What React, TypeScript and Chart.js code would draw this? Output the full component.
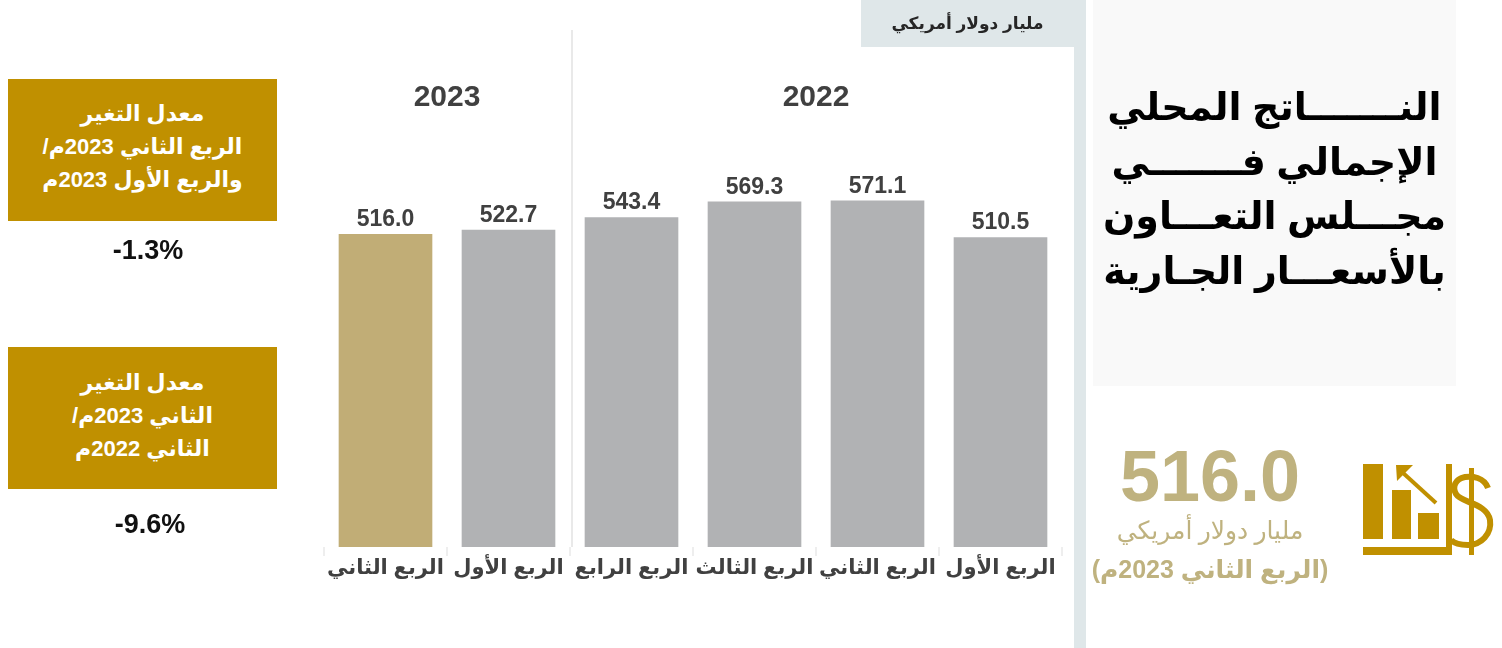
import React, { useEffect, useRef } from "react";
import { Chart, registerables } from "chart.js";

Chart.register(...registerables);

const categories = ["الربع الثاني", "الربع الأول", "الربع الرابع", "الربع الثالث", "الربع الثاني", "الربع الأول"];
const values = [516.0, 522.7, 543.4, 569.3, 571.1, 510.5];
const barColors = ["#c1ad76", "#b1b2b4", "#b1b2b4", "#b1b2b4", "#b1b2b4", "#b1b2b4"];
const yearGroups = [
  { label: "2023", from: 0, to: 1 },
  { label: "2022", from: 2, to: 5 },
];
const unitLabel = "مليار دولار أمريكي";
const titleLines = ["النـــــــاتج المحلي", "الإجمالي فـــــــي", "مجـــلس التعـــاون", "بالأسعـــار الجـارية"];
const box1Lines = ["معدل التغير", "الربع الثاني 2023م/", "والربع الأول 2023م"];
const box2Lines = ["معدل التغير", "الثاني 2023م/", "الثاني 2022م"];
const change1 = "-1.3%";
const change2 = "-9.6%";
const headline = "516.0";
const headlinePeriod = "(الربع الثاني 2023م)";

const FONT = '"Liberation Sans", "DejaVu Sans", sans-serif';

const annotate = {
  id: "annotate",
  afterDatasetsDraw(chart: any) {
    const { ctx, scales, chartArea } = chart;
    const x = scales.x;
    const y = scales.y;
    ctx.save();
    ctx.textAlign = "center";
    // value labels
    ctx.font = `bold 23px ${FONT}`;
    ctx.fillStyle = "#404040";
    ctx.textBaseline = "bottom";
    values.forEach((v, i) => {
      ctx.fillText(v.toFixed(1), x.getPixelForValue(i), y.getPixelForValue(v) - 3);
    });
    // year labels
    ctx.font = `bold 30px ${FONT}`;
    ctx.textBaseline = "middle";
    yearGroups.forEach((g) => {
      const c = (x.getPixelForValue(g.from) + x.getPixelForValue(g.to)) / 2;
      ctx.fillText(g.label, c, 98);
    });
    // separator between year groups
    const sep = (x.getPixelForValue(1) + x.getPixelForValue(2)) / 2 + 2;
    ctx.strokeStyle = "#e2e2e2";
    ctx.lineWidth = 1.5;
    ctx.beginPath();
    ctx.moveTo(sep, chartArea.top);
    ctx.lineTo(sep, chartArea.bottom);
    ctx.stroke();
    ctx.restore();
  },
};

const abs = (x: number, y: number, w: number, h: number, extra: any = {}): any => ({
  position: "absolute",
  left: x,
  top: y,
  width: w,
  height: h,
  ...extra,
});

function Lines({ lines, x, y, w, lh, style }: any) {
  return (
    <>
      {lines.map((t: string, i: number) => (
        <div
          key={i}
          dir="rtl"
          style={abs(x, y + i * lh, w, lh, {
            lineHeight: `${lh}px`,
            textAlign: "center",
            whiteSpace: "nowrap",
            fontFamily: FONT,
            ...style,
          })}
        >
          {t}
        </div>
      ))}
    </>
  );
}

function Icon() {
  const c = "#c09000";
  return (
    <svg style={abs(1360, 460, 140, 100)} viewBox="1360 460 140 100">
      <rect x={1363} y={464} width={20} height={75} fill={c} />
      <rect x={1392} y={490} width={19} height={49} fill={c} />
      <rect x={1418} y={513} width={21} height={26} fill={c} />
      <rect x={1446} y={464} width={6} height={91} fill={c} />
      <rect x={1363} y={547} width={89} height={8} fill={c} />
      <line x1={1436} y1={503} x2={1402} y2={472} stroke={c} strokeWidth={4} />
      <polygon points="1396,465 1413,465 1397,481" fill={c} />
      <path
        d="M1488 488 C1484 477 1472 476 1465 477 C1455 479 1452 487 1456 494 C1461 503 1487 503 1490 520 C1492 534 1481 545 1468 545 C1460 545 1454 543 1451 540"
        fill="none"
        stroke={c}
        strokeWidth={6}
      />
      <rect x={1469} y={468} width={5} height={87} fill={c} />
    </svg>
  );
}

export default function App() {
  const ref = useRef<HTMLCanvasElement>(null);
  useEffect(() => {
    const chart = new Chart(ref.current as HTMLCanvasElement, {
      type: "bar",
      data: {
        labels: categories,
        datasets: [{ data: values, backgroundColor: barColors, barThickness: 93, borderWidth: 0 }],
      },
      options: {
        animation: false,
        responsive: false,
        maintainAspectRatio: false,
        layout: { padding: { left: 324, right: 440, top: 30, bottom: 41 } },
        plugins: { legend: { display: false }, tooltip: { enabled: false } },
        scales: {
          y: { display: false, min: 0, max: 853 },
          x: {
            afterFit: (s: any) => {
              s.height = 60;
            },
            border: { display: false },
            grid: { drawOnChartArea: false, drawTicks: true, tickLength: 9, color: "#eeeeee", lineWidth: 2 },
            ticks: {
              color: "#404040",
              padding: 0,
              maxRotation: 0,
              autoSkip: false,
              font: { family: FONT, size: 21, weight: "bold" },
            },
          },
        },
      },
      plugins: [annotate],
    } as any);
    return () => chart.destroy();
  }, []);

  return (
    <div style={abs(0, 0, 1502, 648, { position: "fixed", overflow: "hidden", background: "#fff" })}>
      <div style={abs(861, 0, 213, 47, { background: "#dfe7e9" })} />
      <div style={abs(1074, 0, 12, 648, { background: "#dfe7e9" })} />
      <div style={abs(1093, 0, 363, 386, { background: "#f9f9f9" })} />
      <canvas ref={ref} width={1502} height={648} style={abs(0, 0, 1502, 648, { display: "block" })} />
      <div dir="rtl" style={abs(861, 0, 213, 47, { lineHeight: "47px", textAlign: "center", fontFamily: FONT, fontWeight: "bold", fontSize: 17, color: "#262626" })}>
        {unitLabel}
      </div>
      <Lines lines={titleLines} x={1093} y={80} w={363} lh={54.5} style={{ fontWeight: "bold", fontSize: 38, color: "#000" }} />

      <div style={abs(8, 79, 269, 142, { background: "#c09000" })} />
      <Lines lines={box1Lines} x={8} y={97} w={269} lh={33} style={{ fontWeight: "bold", fontSize: 22, color: "#fff" }} />
      <div style={abs(8, 232, 280, 36, { lineHeight: "36px", textAlign: "center", fontFamily: FONT, fontWeight: "bold", fontSize: 27, color: "#111" })}>{change1}</div>

      <div style={abs(8, 347, 269, 142, { background: "#c09000" })} />
      <Lines lines={box2Lines} x={8} y={366} w={269} lh={33} style={{ fontWeight: "bold", fontSize: 22, color: "#fff" }} />
      <div style={abs(8, 506, 284, 36, { lineHeight: "36px", textAlign: "center", fontFamily: FONT, fontWeight: "bold", fontSize: 27, color: "#111" })}>{change2}</div>

      <div style={abs(1100, 436, 220, 80, { lineHeight: "80px", textAlign: "center", fontFamily: FONT, fontWeight: "bold", fontSize: 72, color: "#bfb27f" })}>{headline}</div>
      <div dir="rtl" style={abs(1090, 515, 240, 32, { lineHeight: "32px", textAlign: "center", fontFamily: '"Liberation Serif", "DejaVu Sans", serif', fontSize: 25, color: "#bfb27f" })}>{unitLabel}</div>
      <div dir="rtl" style={abs(1080, 551, 260, 36, { lineHeight: "36px", textAlign: "center", fontFamily: FONT, fontWeight: "bold", fontSize: 25, color: "#bfb27f" })}>{headlinePeriod}</div>
      <Icon />
    </div>
  );
}
